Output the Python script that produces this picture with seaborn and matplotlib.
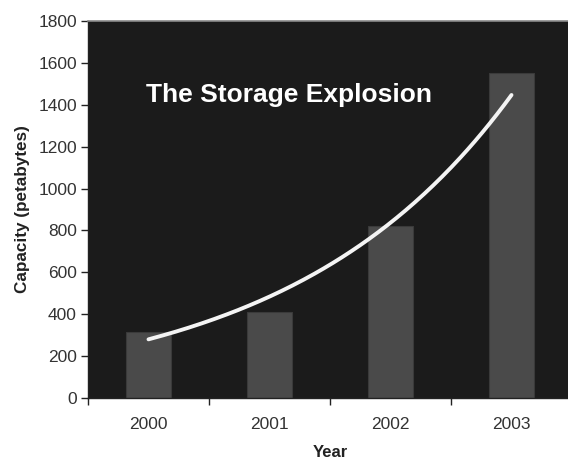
import numpy as np
import pandas as pd
import matplotlib
matplotlib.use("Agg")
import matplotlib.pyplot as plt
from matplotlib.ticker import FixedLocator, NullFormatter
import seaborn as sns

years = ["2000", "2001", "2002", "2003"]
capacity = [315, 410, 820, 1550]
y_ticks = [0, 200, 400, 600, 800, 1000, 1200, 1400, 1600, 1800]

sns.set_theme(style="white")
plt.rcParams["font.family"] = ["Liberation Sans", "DejaVu Sans"]

df = pd.DataFrame({"Year": years, "Capacity": capacity})

fig = plt.figure(figsize=(5.68, 4.61), dpi=100)
ax = fig.add_axes([88 / 568, 63 / 461, 484 / 568, 377 / 461])
ax.set_facecolor("#1b1b1b")

sns.barplot(data=df, x="Year", y="Capacity", color="#4a4a4a", saturation=1,
            width=0.37, edgecolor="#3a3a3a", linewidth=0.8, ax=ax)

# exponential trend line fitted to the bar values
xi = np.arange(len(capacity))
slope, intercept = np.polyfit(xi, np.log(capacity), 1)
xs = np.linspace(0, len(capacity) - 1, 200)
ax.plot(xs, np.exp(intercept + slope * xs), color="#f4f4f4", lw=2.8,
        solid_capstyle="round")

ax.text(1.16, 1445, "The Storage Explosion", color="white", fontsize=19,
        fontweight="bold", ha="center", va="center")

ax.set_xlim(-0.5, 3.5)
ax.set_ylim(0, 1800)
ax.set_yticks(y_ticks)
ax.set_yticklabels([str(v) for v in y_ticks])

# category boundaries carry the tick marks, labels sit at bar centres
ax.xaxis.set_major_locator(FixedLocator([-0.5, 0.5, 1.5, 2.5, 3.5]))
ax.xaxis.set_major_formatter(NullFormatter())
ax.xaxis.set_minor_locator(FixedLocator(xi))
ax.set_xticklabels(years, minor=True)
ax.tick_params(axis="x", which="major", direction="out", length=5, width=1,
               color="#222222", bottom=True)
ax.tick_params(axis="x", which="minor", length=0, pad=14, labelsize=12.5,
               labelcolor="#333333")
ax.tick_params(axis="y", direction="out", length=5, width=1, color="#222222",
               left=True, labelsize=12.5, labelcolor="#333333", pad=3)

for side in ["left", "bottom"]:
    ax.spines[side].set_color("#222222")
    ax.spines[side].set_linewidth(1)
ax.spines["top"].set_color("#8a8a8a")
ax.spines["top"].set_linewidth(1.2)
ax.spines["right"].set_visible(False)

ax.set_xlabel("Year", fontsize=12, fontweight="bold", color="#222222",
              labelpad=9)
ax.set_ylabel("Capacity (petabytes)", fontsize=12.3, fontweight="bold",
              color="#222222", labelpad=6)

fig.savefig("out.png", dpi=100, facecolor="white")
